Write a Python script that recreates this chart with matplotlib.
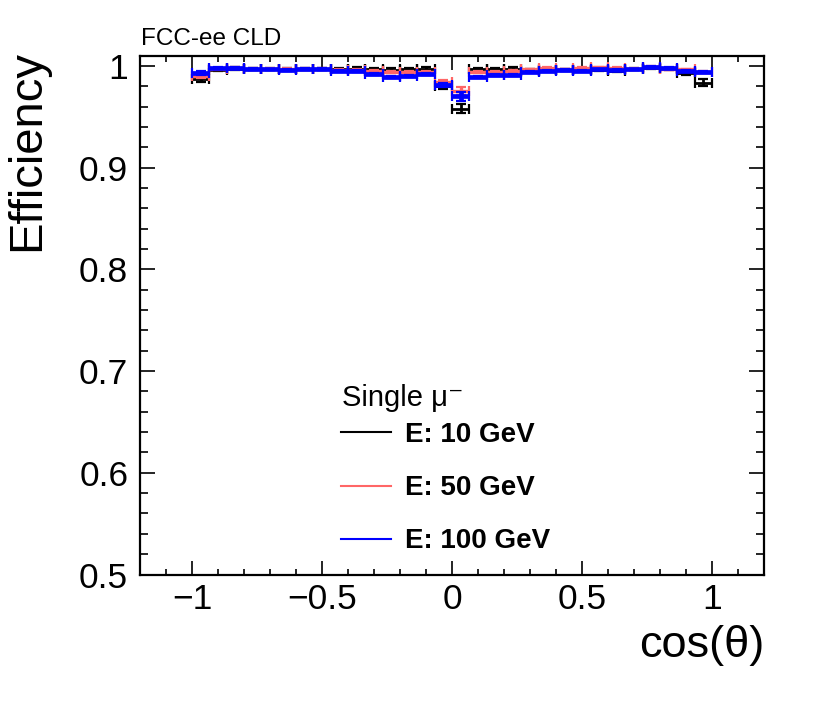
import numpy as np
import matplotlib
matplotlib.use("Agg")
import matplotlib.pyplot as plt
from matplotlib.lines import Line2D
from matplotlib.ticker import MultipleLocator, FuncFormatter

plt.rcParams['font.family'] = ['Liberation Sans', 'DejaVu Sans']

# ---- data ----
bin_edges = np.linspace(-1.0, 1.0, 31)
eff_10 = [0.9875, 0.9965, 0.9975, 0.9970, 0.9970, 0.9968, 0.9970, 0.9972, 0.9970, 0.9975,
          0.9968, 0.9965, 0.9968, 0.9975, 0.9800, 0.9580, 0.9968, 0.9967, 0.9975, 0.9955,
          0.9960, 0.9962, 0.9960, 0.9960, 0.9950, 0.9970, 0.9980, 0.9972, 0.9930, 0.9835]
err_10 = [0.003, 0.0015, 0.0012, 0.0012, 0.0012, 0.0012, 0.0012, 0.0012, 0.0012, 0.0012,
          0.0012, 0.0012, 0.0012, 0.0012, 0.003, 0.0045, 0.0012, 0.0012, 0.0012, 0.0012,
          0.0012, 0.0012, 0.0012, 0.0012, 0.0012, 0.0012, 0.0012, 0.0012, 0.002, 0.0035]
eff_50 = [0.9900, 0.9975, 0.9980, 0.9972, 0.9970, 0.9970, 0.9975, 0.9970, 0.9960, 0.9960,
          0.9948, 0.9938, 0.9940, 0.9940, 0.9840, 0.9755, 0.9944, 0.9944, 0.9950, 0.9967,
          0.9977, 0.9967, 0.9977, 0.9985, 0.9980, 0.9970, 0.9987, 0.9970, 0.9967, 0.9944]
err_50 = [0.002] + [0.0008] * 13 + [0.002, 0.004] + [0.0008] * 14
eff_100 = [0.9935, 0.9977, 0.9980, 0.9970, 0.9967, 0.9961, 0.9971, 0.9971, 0.9954, 0.9950,
           0.9921, 0.9889, 0.9902, 0.9921, 0.9815, 0.9700, 0.9895, 0.9912, 0.9912, 0.9944,
           0.9954, 0.9961, 0.9954, 0.9967, 0.9961, 0.9967, 0.9987, 0.9977, 0.9954, 0.9938]
err_100 = [0.002] + [0.0008] * 13 + [0.002, 0.004] + [0.0008] * 14

labels = ["E: 10 GeV", "E: 50 GeV", "E: 100 GeV"]
colors = ["#000000", "#ff6666", "#0000ff"]
linewidths = [2.0, 2.4, 3.4]

centers = 0.5 * (bin_edges[:-1] + bin_edges[1:])
halfw = 0.5 * np.diff(bin_edges)

fig = plt.figure(figsize=(8.30, 7.02), dpi=100)
ax = fig.add_axes([140 / 830, 1 - 574.5 / 702, 624 / 830, (574.5 - 55.7) / 702])

for eff, err, c, lw in zip([eff_10, eff_50, eff_100], [err_10, err_50, err_100], colors, linewidths):
    ax.errorbar(centers, eff, xerr=halfw, yerr=err, fmt='none', ecolor=c,
                elinewidth=lw, capsize=3.6, capthick=1.6)

ax.set_xlim(-1.2, 1.2)
ax.set_ylim(0.5, 1.0101)

ax.xaxis.set_major_locator(MultipleLocator(0.5))
ax.xaxis.set_minor_locator(MultipleLocator(0.1))
ax.yaxis.set_major_locator(MultipleLocator(0.1))
ax.yaxis.set_minor_locator(MultipleLocator(0.02))

def fmt(v, pos):
    s = "%g" % round(v, 6)
    if s == "-0":
        s = "0"
    return s.replace("-", "\u2212")

ax.xaxis.set_major_formatter(FuncFormatter(fmt))
ax.yaxis.set_major_formatter(FuncFormatter(fmt))

ax.tick_params(which='both', direction='in', top=True, right=True, width=1.2, labelsize=25.5)
ax.tick_params(axis='x', which='major', length=10, pad=6)
ax.tick_params(axis='x', which='minor', length=4.5)
ax.tick_params(axis='y', which='major', length=11, pad=8.5)
ax.tick_params(axis='y', which='minor', length=5.5)
for sp in ax.spines.values():
    sp.set_linewidth(1.6)

ax.set_xlabel("cos(\u03b8)", fontsize=32.5, loc='right')
ax.xaxis.set_label_coords(1.0, -0.097)
ax.set_ylabel("Efficiency", fontsize=34, loc='top')
ax.yaxis.set_label_coords(-0.146, 1.011)

ax.text(0.0016, 1.0206, "FCC-ee CLD", transform=ax.transAxes, fontsize=17.5,
        ha='left', va='baseline')

# legend header
fig.text(342 / 830, 1 - 406 / 702, "Single \u03bc\u207b", fontsize=21,
         ha='left', va='baseline')

handles = [Line2D([], [], color=c, lw=1.5) for c in colors]
leg = ax.legend(handles, labels, loc='upper left',
                bbox_to_anchor=(341 / 830, 1 - 422 / 702), bbox_transform=fig.transFigure,
                frameon=False, prop={'size': 20, 'weight': 'bold'},
                handlelength=1.8, handletextpad=0.5, labelspacing=0.98,
                borderpad=0, borderaxespad=0)

fig.savefig("out.png", dpi=100)
